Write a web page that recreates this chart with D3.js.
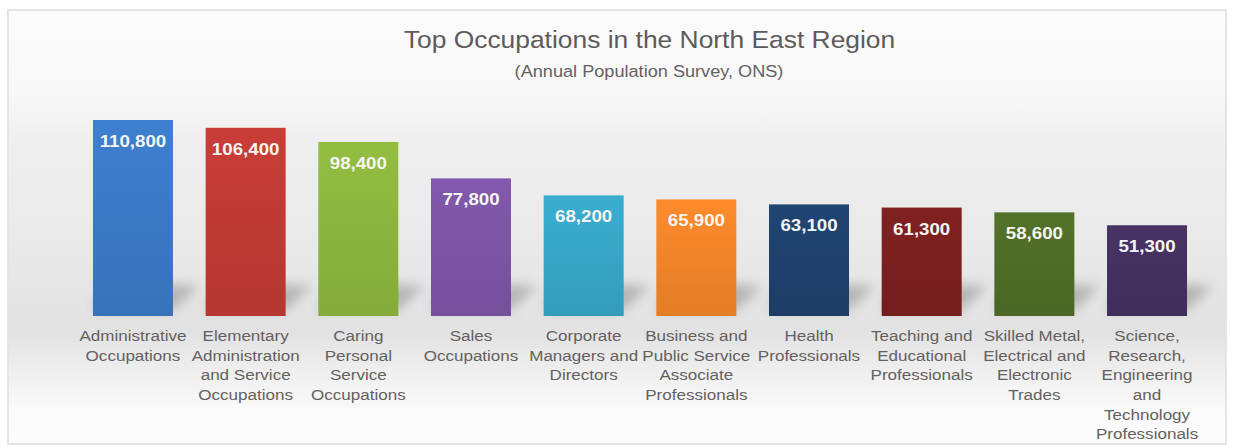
<!DOCTYPE html>
<html>
<head>
<meta charset="utf-8">
<script src="https://cdn.jsdelivr.net/npm/d3@7/dist/d3.min.js"></script>
<style>
  html, body { margin: 0; padding: 0; background: #fff; }
  svg { display: block; }
  text { font-family: "Liberation Sans", Arial, sans-serif; }
</style>
</head>
<body>
<svg id="chart" width="1234" height="448"></svg>
<script>
const categories = [
  "Administrative Occupations",
  "Elementary Administration and Service Occupations",
  "Caring Personal Service Occupations",
  "Sales Occupations",
  "Corporate Managers and Directors",
  "Business and Public Service Associate Professionals",
  "Health Professionals",
  "Teaching and Educational Professionals",
  "Skilled Metal, Electrical and Electronic Trades",
  "Science, Research, Engineering and Technology Professionals"
];

const values = [110800, 106400, 98400, 77800, 68200, 65900, 63100, 61300, 58600, 51300];

const labelLines = [
  ["Administrative", "Occupations"],
  ["Elementary", "Administration", "and Service", "Occupations"],
  ["Caring", "Personal", "Service", "Occupations"],
  ["Sales", "Occupations"],
  ["Corporate", "Managers and", "Directors"],
  ["Business and", "Public Service", "Associate", "Professionals"],
  ["Health", "Professionals"],
  ["Teaching and", "Educational", "Professionals"],
  ["Skilled Metal,", "Electrical and", "Electronic", "Trades"],
  ["Science,", "Research,", "Engineering", "and", "Technology", "Professionals"]
];

const barColors = ["#3b78c4", "#bf3a35", "#8bb43e", "#7b54a3", "#37a5c5",
                   "#f08429", "#1f406c", "#7a1f1f", "#4f6c27", "#44305f"];

const title = "Top Occupations in the North East Region";
const subtitle = "(Annual Population Survey, ONS)";

const svg = d3.select("#chart");
const defs = svg.append("defs");

// background panel gradient
const bg = defs.append("linearGradient").attr("id", "bg")
  .attr("x1", 0).attr("y1", 0).attr("x2", 0).attr("y2", 1);
[[0, "#fbfbfb"], [0.19, "#f8f8f8"], [0.3, "#efefef"], [0.55, "#e9e9e9"],
 [0.74, "#e2e2e2"], [0.86, "#f2f2f2"], [0.92, "#fafafa"], [1, "#fcfcfc"]]
  .forEach(([o, c]) => bg.append("stop").attr("offset", o).attr("stop-color", c));

const blur = defs.append("filter").attr("id", "blur")
  .attr("x", "-50%").attr("y", "-50%").attr("width", "200%").attr("height", "200%");
blur.append("feGaussianBlur").attr("stdDeviation", 6);

barColors.forEach((c, i) => {
  const g = defs.append("linearGradient").attr("id", "bar" + i)
    .attr("x1", 0).attr("y1", 0).attr("x2", 0).attr("y2", 1);
  g.append("stop").attr("offset", 0).attr("stop-color", d3.color(c).brighter(0.15));
  g.append("stop").attr("offset", 1).attr("stop-color", d3.color(c).darker(0.15));
});

svg.append("rect")
  .attr("x", 8).attr("y", 10).attr("width", 1218).attr("height", 434)
  .attr("fill", "url(#bg)")
  .attr("stroke", "#e4e4e4").attr("stroke-width", 2);

const x = d3.scaleBand()
  .domain(categories)
  .range([60.3, 1219.7])
  .paddingInner(0.29)
  .paddingOuter(0.29);

const y = d3.scaleLinear()
  .domain([0, 110800])
  .range([316, 120]);

// floor shadows, cast back and to the right of each bar
svg.append("g").selectAll("path")
  .data(categories)
  .join("path")
  .attr("d", d => {
    const x0 = x(d), w = x.bandwidth(), b = y(0);
    return `M${x0},${b - 6}L${x0 + w},${b - 6}L${x0 + w + 26},${b - 30}L${x0 + 14},${b - 34}Z`;
  })
  .attr("fill", "#6a6a6a")
  .attr("opacity", 0.4)
  .attr("filter", "url(#blur)");

// bars
svg.append("g").selectAll("rect")
  .data(categories)
  .join("rect")
  .attr("x", d => x(d))
  .attr("y", (d, i) => y(values[i]))
  .attr("width", x.bandwidth())
  .attr("height", (d, i) => y(0) - y(values[i]))
  .attr("fill", (d, i) => `url(#bar${i})`);

// value labels
const fmt = d3.format(",");
svg.append("g").selectAll("text")
  .data(categories)
  .join("text")
  .attr("transform", (d, i) => `translate(${x(d) + x.bandwidth() / 2},${y(values[i]) + 27}) scale(1.1,1)`)
  .attr("text-anchor", "middle")
  .attr("font-size", 17)
  .attr("font-weight", "bold")
  .attr("fill", "#f5f5f2")
  .text((d, i) => fmt(values[i]));

// category labels
const lab = svg.append("g").selectAll("g")
  .data(categories)
  .join("g")
  .attr("transform", d => `translate(${x(d) + x.bandwidth() / 2},341) scale(1.1,1)`);
lab.selectAll("text")
  .data((d, i) => labelLines[i])
  .join("text")
  .attr("y", (d, j) => j * 19.7)
  .attr("text-anchor", "middle")
  .attr("font-size", 15.5)
  .attr("fill", "#656060")
  .text(d => d);

// titles
svg.append("text")
  .attr("transform", "translate(649.5,48) scale(1.1,1)")
  .attr("text-anchor", "middle")
  .attr("font-size", 24)
  .attr("fill", "#5f5a5a")
  .text(title);

svg.append("text")
  .attr("transform", "translate(649,77) scale(1.1,1)")
  .attr("text-anchor", "middle")
  .attr("font-size", 16.5)
  .attr("fill", "#656060")
  .text(subtitle);
</script>
</body>
</html>
